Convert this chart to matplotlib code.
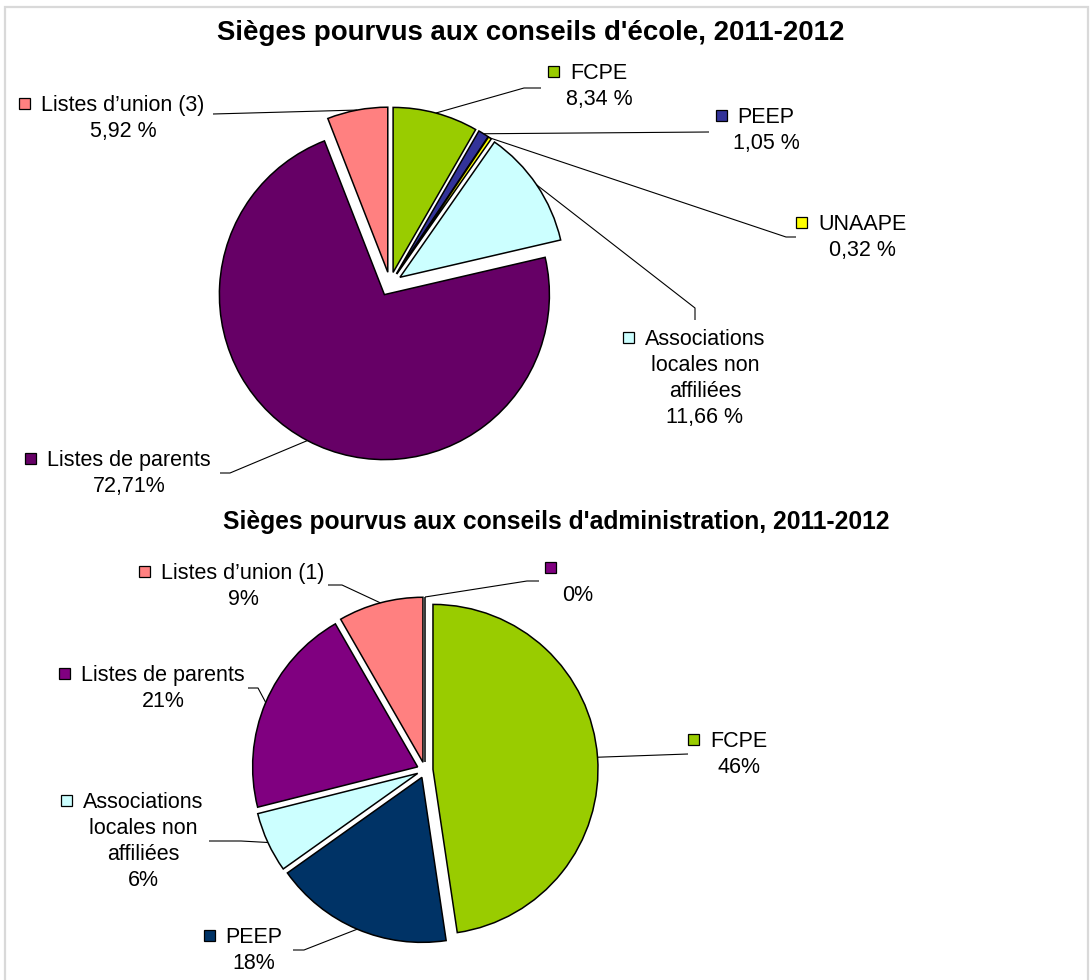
import matplotlib
matplotlib.use('Agg')
import matplotlib.pyplot as plt
from matplotlib.patches import Rectangle
import numpy as np

plt.rcParams['font.family'] = ['Liberation Sans', 'DejaVu Sans']

W, H = 1092, 980

# ---------------- data ----------------
top_title = "Sièges pourvus aux conseils d'école, 2011-2012"
top_names = ["FCPE", "PEEP", "UNAAPE", "Associations\nlocales non\naffiliées",
             "Listes de parents", "Listes d’union (3)"]
top_values = [8.34, 1.05, 0.32, 11.66, 72.71, 5.92]
top_pct = ["8,34 %", "1,05 %", "0,32 %", "11,66 %", "72,71%", "5,92 %"]
top_colors = ["#99CC00", "#333399", "#FFFF00", "#CCFFFF", "#660066", "#FF8080"]

bot_title = "Sièges pourvus aux conseils d'administration, 2011-2012"
bot_names = ["FCPE", "PEEP", "Associations\nlocales non\naffiliées",
             "Listes de parents", "Listes d’union (1)", ""]
# slice sizes
bot_values = [47.6, 17.5, 5.9, 20.6, 8.3, 0]
bot_pct = ["46%", "18%", "6%", "21%", "9%", "0%"]
bot_colors = ["#99CC00", "#003366", "#CCFFFF", "#800080", "#FF8080", "#800080"]

# ---------------- layout (pixel coords, y down) ----------------
top_center, top_radius, top_explode = (390, 284), 165, 12
bot_center, bot_radius, bot_explode = (425, 770), 165, 8

# label: (center x, baseline of first line, marker center x or None, leader points)
top_layout = [
    (599, 79, None, [(524, 88), (541, 88)]),
    (766, 123, None, [(709, 132)]),
    (862, 230, None, [(786, 237), (796, 237)]),
    (705, 345, None, [(695, 308), (695, 320)]),
    (129, 466, None, [(230, 473), (220, 473)]),
    (123, 111, None, [(213, 114)]),
]
bot_layout = [
    (739, 747, None, [(688, 754)]),
    (254, 943, None, [(304, 950), (293, 950)]),
    (143, 808, None, [(241, 841), (209, 841)]),
    (163, 681, None, [(258, 688), (248, 688)]),
    (243, 579, None, [(342, 585), (328, 585)]),
    (578, 575, 550, [(527, 581), (539, 581)]),
]

LABEL_FS = 15.5
LINE_H = 26
MK = 11

fig = plt.figure(figsize=(W / 100, H / 100), dpi=100)
ax = fig.add_axes([0, 0, 1, 1])


def Y(y):
    return H - y


def draw_pie(values, colors, center, radius, explode):
    wedges, _ = ax.pie(values, colors=colors, startangle=90, counterclock=False,
                       radius=radius, center=(center[0], Y(center[1])),
                       explode=[explode] * len(values),
                       wedgeprops=dict(edgecolor='black', linewidth=1.1))
    return wedges


top_w = draw_pie(top_values, top_colors, top_center, top_radius, top_explode)
bot_w = draw_pie(bot_values, bot_colors, bot_center, bot_radius, bot_explode)

ax.set_xlim(0, W)
ax.set_ylim(0, H)
ax.axis('off')

renderer = fig.canvas.get_renderer()


def draw_labels(wedges, names, pcts, colors, layout):
    for w, name, pct, col, (cx, b, mx, pts) in zip(wedges, names, pcts, colors, layout):
        # leader line from middle of wedge arc
        tm = np.deg2rad((w.theta1 + w.theta2) / 2)
        sx = w.center[0] + w.r * np.cos(tm)
        sy = w.center[1] + w.r * np.sin(tm)
        xs = [sx] + [p[0] for p in pts]
        ys = [sy] + [Y(p[1]) for p in pts]
        ax.plot(xs, ys, color='black', lw=0.8, solid_capstyle='butt')
        lines = (name.split("\n") if name else [""]) + [pct]
        first = None
        for i, ln in enumerate(lines):
            t = ax.text(cx, Y(b + i * LINE_H), ln, ha='center', va='baseline',
                        fontsize=LABEL_FS, color='black')
            if i == 0:
                first = t
        if mx is None:
            ext = first.get_window_extent(renderer)
            right = ext.x0 - 11
            mx = right - MK / 2
        ax.add_patch(Rectangle((mx - MK / 2, Y(b - 7.5) - MK / 2), MK, MK, facecolor=col,
                               edgecolor='black', linewidth=0.9))


draw_labels(top_w, top_names, top_pct, top_colors, top_layout)
draw_labels(bot_w, bot_names, bot_pct, bot_colors, bot_layout)

ax.text(531, Y(33), top_title, ha='center', va='center', fontsize=19.9, fontweight='bold')
ax.text(556, Y(522), bot_title, ha='center', va='center', fontsize=17.7, fontweight='bold')

ax.add_patch(Rectangle((5, Y(990)), 1083, 983, fill=False, edgecolor='#d9d9d9',
                       linewidth=1.6, clip_on=False))

fig.savefig('out.png', dpi=100)
